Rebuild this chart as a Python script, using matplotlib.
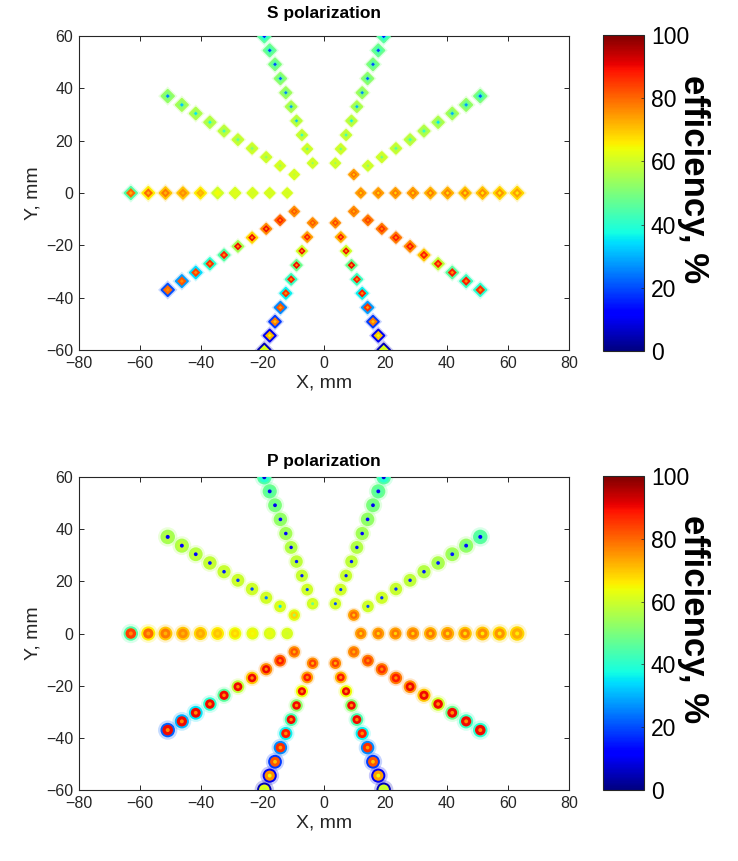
import numpy as np
import matplotlib
matplotlib.use("Agg")
import matplotlib.pyplot as plt
from matplotlib import colors, cm

plt.rcParams['font.family'] = ['Liberation Sans', 'DejaVu Sans']

# Measurement geometry: 10 radial lines of 10 sample points each
ANGLES_DEG = [0, 36, 72, 108, 144, 180, 216, 252, 288, 324]
RADII_MM = [12.0, 17.7, 23.3, 29.0, 34.7, 40.3, 46.0, 51.7, 57.3, 63.0]

# Efficiency (%) per ray (rows follow ANGLES_DEG), points ordered inner -> outer.
# Three values per point: outer ring, marker body, centre dot.
S_EDGE = [
    [74, 74, 74, 74, 72, 72, 70, 70, 68, 68],
    [74, 60, 60, 59, 58, 57, 56, 55, 53, 50],
    [60, 60, 59, 58, 56, 54, 52, 50, 48, 46],
    [60, 60, 59, 58, 56, 54, 52, 50, 48, 46],
    [61, 61, 60, 60, 59, 58, 57, 56, 55, 53],
    [61, 61, 61, 61, 60, 66, 70, 70, 66, 45],
    [76, 80, 76, 68, 55, 45, 40, 34, 28, 20],
    [76, 74, 60, 48, 42, 36, 26, 18, 10, 5],
    [76, 72, 60, 48, 42, 36, 28, 18, 10, 5],
    [76, 78, 78, 78, 76, 70, 58, 46, 42, 40],
]
S_FACE = [
    [78, 78, 78, 78, 78, 77, 77, 76, 75, 74],
    [79, 60, 59, 57, 55, 54, 52, 50, 48, 44],
    [61, 59, 57, 55, 52, 50, 48, 46, 44, 40],
    [61, 59, 57, 55, 52, 50, 48, 46, 44, 40],
    [61, 60, 59, 58, 57, 56, 55, 54, 52, 50],
    [61, 61, 61, 62, 64, 72, 76, 78, 80, 80],
    [82, 88, 90, 90, 90, 88, 86, 84, 82, 80],
    [82, 88, 90, 90, 88, 86, 82, 78, 72, 62],
    [84, 88, 90, 90, 88, 88, 86, 78, 70, 62],
    [80, 84, 86, 88, 88, 88, 88, 88, 88, 86],
]
S_CENTER = [
    [68, 68, 68, 68, 68, 67, 67, 66, 66, 66],
    [70, 52, 48, 45, 42, 40, 35, 30, 28, 22],
    [54, 48, 42, 36, 30, 26, 22, 20, 18, 15],
    [52, 46, 40, 32, 28, 25, 22, 20, 18, 15],
    [58, 55, 52, 50, 46, 42, 38, 35, 32, 25],
    [60, 60, 60, 62, 64, 70, 72, 72, 72, 72],
    [74, 76, 76, 76, 76, 76, 76, 76, 76, 76],
    [74, 76, 76, 76, 76, 76, 74, 70, 64, 58],
    [74, 76, 76, 76, 76, 76, 74, 70, 64, 58],
    [72, 76, 76, 76, 76, 76, 76, 76, 76, 76],
]

P_EDGE = [
    [74, 74, 74, 74, 72, 72, 70, 70, 68, 68],
    [74, 60, 60, 59, 58, 57, 56, 55, 53, 46],
    [60, 60, 59, 58, 57, 55, 53, 50, 48, 45],
    [60, 60, 59, 58, 57, 55, 53, 50, 48, 45],
    [62, 61, 60, 60, 59, 59, 58, 57, 56, 55],
    [61, 61, 62, 64, 66, 68, 70, 70, 66, 45],
    [76, 80, 76, 70, 58, 46, 40, 35, 30, 22],
    [76, 74, 64, 52, 44, 36, 26, 18, 10, 5],
    [76, 72, 64, 52, 44, 36, 26, 18, 10, 5],
    [76, 78, 78, 78, 76, 70, 60, 48, 42, 40],
]
P_FACE = [
    [78, 78, 78, 78, 78, 77, 77, 76, 75, 73],
    [80, 60, 60, 59, 58, 57, 55, 53, 50, 45],
    [61, 60, 59, 58, 56, 54, 52, 49, 46, 40],
    [62, 60, 59, 58, 56, 54, 52, 49, 46, 40],
    [68, 62, 61, 60, 60, 59, 59, 58, 58, 56],
    [61, 63, 65, 68, 70, 73, 76, 78, 80, 84],
    [82, 88, 90, 90, 90, 90, 90, 90, 90, 90],
    [84, 88, 90, 90, 90, 88, 86, 82, 76, 62],
    [84, 88, 90, 90, 90, 88, 86, 82, 74, 60],
    [80, 84, 86, 88, 90, 90, 90, 90, 90, 90],
]
P_CENTER = [
    [68, 68, 68, 68, 68, 67, 67, 66, 66, 66],
    [70, 20, 18, 18, 16, 15, 15, 15, 14, 12],
    [20, 18, 15, 15, 12, 12, 12, 10, 10, 8],
    [48, 20, 15, 15, 12, 12, 12, 10, 10, 8],
    [55, 35, 25, 20, 18, 15, 15, 12, 12, 10],
    [60, 62, 64, 66, 68, 70, 72, 72, 74, 76],
    [72, 76, 76, 76, 76, 76, 76, 76, 76, 76],
    [72, 76, 76, 76, 76, 76, 74, 70, 64, 58],
    [72, 76, 76, 76, 76, 76, 74, 70, 64, 58],
    [72, 76, 76, 76, 76, 76, 76, 76, 76, 76],
]

X_TICKS = [-80, -60, -40, -20, 0, 20, 40, 60, 80]
Y_TICKS = [-60, -40, -20, 0, 20, 40, 60]
CBAR_TICKS = [0, 20, 40, 60, 80, 100]

AX_COLOR = '#262626'
cmap = plt.get_cmap('jet')
norm = colors.Normalize(vmin=0, vmax=100)

fig = plt.figure(figsize=(7.38, 8.61), dpi=100)
W, H = 738.0, 861.0


def box(x0, y_top, x1, y_bot):
    return [x0 / W, 1 - y_bot / H, (x1 - x0) / W, (y_bot - y_top) / H]


def draw_panel(ax, cax, title, title_pad, marker, edge, face, center):
    th = np.deg2rad(np.array(ANGLES_DEG, dtype=float))[:, None]
    r = np.array(RADII_MM)[None, :]
    x = (r * np.cos(th)).ravel()
    y = (r * np.sin(th)).ravel()
    rr = np.broadcast_to(r, (len(ANGLES_DEG), len(RADII_MM))).ravel()
    e = cmap(norm(np.array(edge, dtype=float).ravel()))
    f = cmap(norm(np.array(face, dtype=float).ravel()))
    c = cmap(norm(np.array(center, dtype=float).ravel()))

    size_px = np.interp(rr, [12, 63], [9.5, 12.5])
    ms = size_px * 72.0 / 100.0
    if marker == 'D':
        ms = ms / np.sqrt(2)

    ax.scatter(x, y, s=(ms * 1.55) ** 2, c=e, alpha=0.22, marker=marker,
               linewidths=0, zorder=2)
    ax.scatter(x, y, s=ms ** 2, c=f, edgecolors=e, linewidths=1.4,
               marker=marker, zorder=3)
    ax.scatter(x, y, s=(ms * 0.32) ** 2, c=c, marker=marker,
               linewidths=0, zorder=4)

    ax.set_xlim(-80, 80)
    ax.set_ylim(-60, 60)
    ax.set_xticks(X_TICKS)
    ax.set_yticks(Y_TICKS)
    ax.tick_params(direction='in', top=True, right=True, length=3.5,
                   width=0.7, colors=AX_COLOR, labelsize=11.5, pad=4)
    for sp in ax.spines.values():
        sp.set_color(AX_COLOR)
        sp.set_linewidth(0.8)
    ax.set_xlabel('X, mm', fontsize=14, color=AX_COLOR, labelpad=3)
    ax.set_ylabel('Y, mm', fontsize=14, color=AX_COLOR, labelpad=3)
    ax.set_title(title, fontsize=12.5, fontweight='bold', color='black',
                 pad=title_pad)

    sm = cm.ScalarMappable(norm=norm, cmap=cmap)
    cb = fig.colorbar(sm, cax=cax, ticks=CBAR_TICKS)
    cb.outline.set_edgecolor(AX_COLOR)
    cb.outline.set_linewidth(0.8)
    cax.tick_params(direction='in', length=2.5, width=0.5, colors=AX_COLOR,
                    labelsize=16.5, pad=5)
    for lbl in cax.get_yticklabels():
        lbl.set_color('black')
    cax.set_ylabel('efficiency, %', fontsize=25, fontweight='bold',
                   rotation=270, color='black')
    cax.yaxis.set_label_coords(2.62, 0.545)


ax_s = fig.add_axes(box(78.7, 36, 569.3, 350))
cax_s = fig.add_axes(box(603, 35, 644, 351))
draw_panel(ax_s, cax_s, 'S polarization', 13, 'D', S_EDGE, S_FACE, S_CENTER)

ax_p = fig.add_axes(box(78.7, 477, 569.3, 790))
cax_p = fig.add_axes(box(603, 476, 644, 790))
draw_panel(ax_p, cax_p, 'P polarization', 8, 'o', P_EDGE, P_FACE, P_CENTER)

fig.savefig('out.png', dpi=100, facecolor='white')
